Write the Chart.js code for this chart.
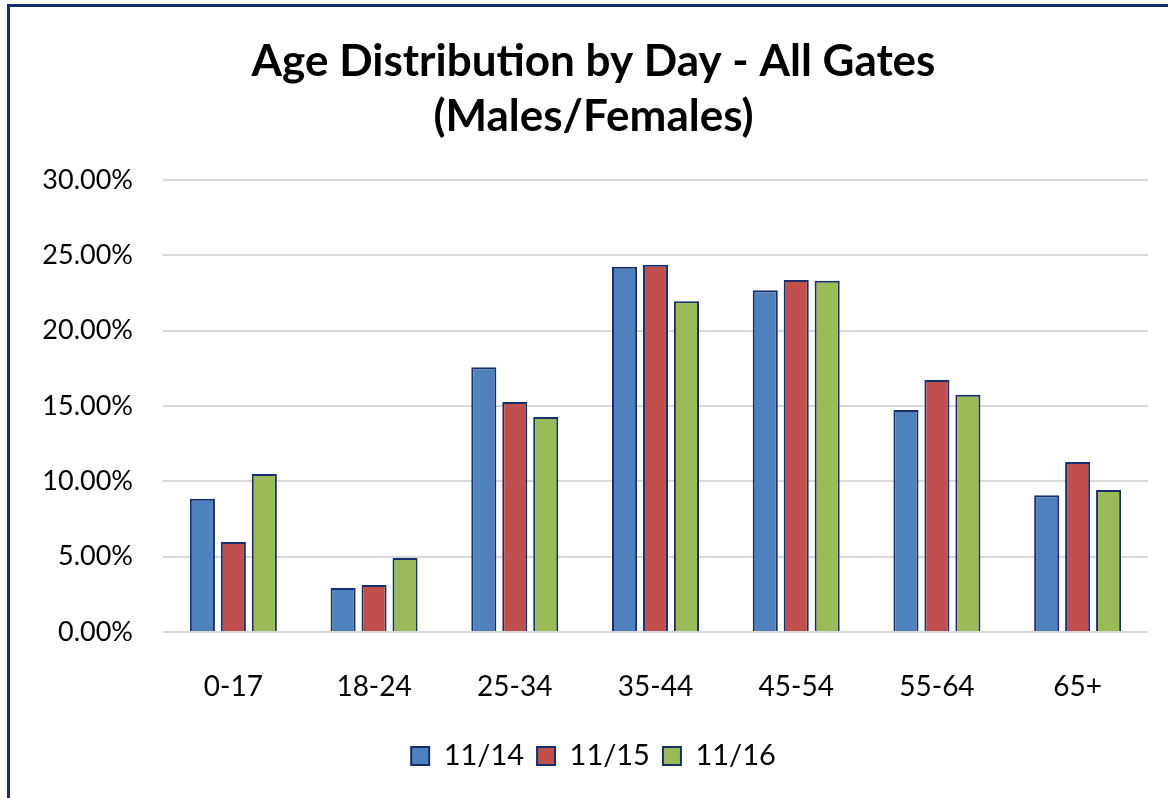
<!DOCTYPE html>
<html>
<head>
<meta charset="utf-8">
<script src="https://cdn.jsdelivr.net/npm/chart.js@4.4.0/dist/chart.umd.min.js"></script>
<style>
  html, body { margin: 0; padding: 0; background: #fff; overflow: hidden; }
  #wrap { position: relative; width: 1168px; height: 798px; }
  #frame {
    position: absolute; left: 7px; top: 4px; width: 1200px; height: 850px;
    border: 3px solid #17306B; box-sizing: border-box; pointer-events: none;
  }
  canvas { position: absolute; left: 0; top: 0; }
</style>
</head>
<body>
<div id="wrap">
  <canvas id="ageChart" width="1168" height="798"></canvas>
  <div id="frame"></div>
</div>
<script>
// Chart data
const ageGroups = ["0-17", "18-24", "25-34", "35-44", "45-54", "55-64", "65+"];
const day14 = [8.85, 2.92, 17.58, 24.24, 22.69, 14.73, 9.07];
const day15 = [5.97, 3.12, 15.26, 24.37, 23.36, 16.72, 11.28];
const day16 = [10.48, 4.91, 14.27, 21.96, 23.31, 15.75, 9.42];
const dayLabels = ["11/14", "11/15", "11/16"];
const yTicks = [0, 5, 10, 15, 20, 25, 30];

const FONT = "Lato, 'Open Sans', sans-serif";
const outline = '#17306B';

function makeSet(label, values, color) {
  return {
    label: label,
    data: values,
    backgroundColor: color,
    borderColor: outline,
    borderWidth: 2,
    categoryPercentage: 0.66,
    barPercentage: 0.81
  };
}

function createChart() {
  const ctx = document.getElementById("ageChart").getContext("2d");

  new Chart(ctx, {
    type: "bar",
    data: {
      labels: ageGroups,
      datasets: [
        makeSet(dayLabels[0], day14, '#4F81BD'),
        makeSet(dayLabels[1], day15, '#C0504D'),
        makeSet(dayLabels[2], day16, '#9BBB59')
      ]
    },
    options: {
      responsive: false,
      animation: false,
      layout: { padding: { left: 39, right: 20, top: 34, bottom: 17.5 } },
      plugins: {
        title: {
          display: true,
          text: ["Age Distribution by Day - All Gates", "(Males/Females)"],
          color: '#000',
          font: { family: FONT, size: 44, weight: 'bold', lineHeight: 1.25 },
          padding: { top: 0, bottom: 36 }
        },
        legend: {
          position: 'bottom',
          labels: {
            color: '#000',
            font: { family: FONT, size: 29 },
            boxWidth: 18,
            boxHeight: 18,
            padding: 13
          }
        },
        tooltip: { enabled: false }
      },
      scales: {
        y: {
          min: 0,
          max: 30,
          afterBuildTicks: function(scale) {
            scale.ticks = yTicks.map(v => ({ value: v }));
          },
          afterFit: function(scale) { scale.width = 124; },
          border: { display: false },
          grid: { color: '#D9D9D9', lineWidth: 2, drawTicks: false },
          ticks: {
            color: '#000',
            padding: 30,
            font: { family: FONT, size: 27 },
            callback: v => v.toFixed(2) + '%'
          }
        },
        x: {
          afterFit: function(scale) { scale.height = 96.5; },
          border: { display: false },
          grid: { display: false },
          ticks: {
            color: '#000',
            padding: 30,
            font: { family: FONT, size: 28 }
          }
        }
      }
    }
  });
}

document.addEventListener('DOMContentLoaded', createChart);
</script>
</body>
</html>
